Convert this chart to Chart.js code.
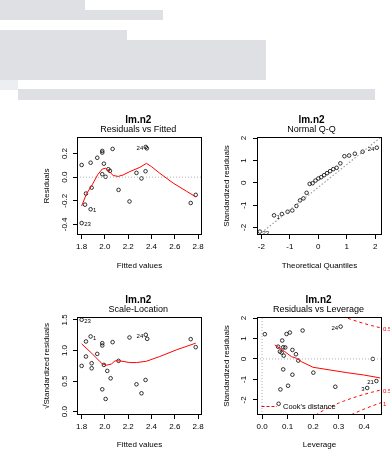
<!DOCTYPE html>
<html><head><meta charset="utf-8">
<script src="https://cdn.jsdelivr.net/npm/chart.js@4.4.1/dist/chart.umd.min.js"></script>
<style>
html,body{margin:0;padding:0;background:#fff;}
body{width:390px;height:450px;position:relative;overflow:hidden;}
.bar{position:absolute;background:#dfe0e4;}
canvas{position:absolute;}
</style></head><body>
<div class="bar" style="left:0;top:0;width:85px;height:10px"></div>
<div class="bar" style="left:0;top:10px;width:163px;height:10px"></div>
<div class="bar" style="left:0;top:30px;width:127px;height:10px"></div>
<div class="bar" style="left:0;top:40px;width:266px;height:40px"></div>
<div class="bar" style="left:0;top:80px;width:18px;height:10px;background:#eceef1"></div>
<div class="bar" style="left:18px;top:89px;width:357px;height:11px"></div>
<canvas id="c1" width="210" height="180" style="left:0;top:100px"></canvas>
<canvas id="c2" width="180" height="180" style="left:210px;top:100px"></canvas>
<canvas id="c3" width="210" height="170" style="left:0;top:280px"></canvas>
<canvas id="c4" width="180" height="170" style="left:210px;top:280px"></canvas>
<script>
// ---- tick labels ----
const fittedTicks = ['1.8','2.0','2.2','2.4','2.6','2.8'];
const residTicks = ['-0.4','-0.2','0.0','0.2'];
const qqTicks = ['-2','-1','0','1','2'];
const sqrtTicks = ['0.0','0.5','1.0','1.5'];
const leverageTicks = ['0.0','0.1','0.2','0.3','0.4'];
const stdTicks = ['-2','-1','0','1','2'];

// ---- Residuals vs Fitted ----
const fitted = [1.80,1.80,1.829,1.837,1.877,1.886,1.877,1.934,1.977,1.977,1.977,1.991,2.006,2.029,2.043,2.066,2.117,2.211,2.271,2.314,2.351,2.36,2.349,2.737,2.78];
const residuals = [-0.389,0.103,-0.233,-0.139,-0.272,-0.089,0.122,0.164,0.222,0.208,0.025,0.114,0.003,0.067,0.053,0.239,-0.108,-0.206,0.036,-0.011,0.256,0.244,0.05,-0.219,-0.15];
const residLabels = ['23','','','','1','','','','','','','','','','','','','','','','24','','','',''];
const residLowessX = [1.80,1.843,1.891,1.937,1.977,2.006,2.037,2.071,2.114,2.157,2.214,2.30,2.357,2.40,2.471,2.586,2.70,2.78];
const residLowessY = [-0.244,-0.139,-0.064,0.019,0.069,0.075,0.047,0.014,0.006,0.019,0.047,0.083,0.117,0.089,0.033,-0.05,-0.119,-0.167];

// ---- Normal Q-Q ----
const theoQuant = [-2.054,-1.555,-1.282,-1.080,-0.915,-0.772,-0.643,-0.524,-0.412,-0.305,-0.202,-0.100,0,0.100,0.202,0.305,0.412,0.524,0.643,0.772,0.915,1.080,1.282,1.555,2.054];
const stdResidSorted = [-2.19,-1.46,-1.40,-1.30,-1.24,-1.04,-0.79,-0.70,-0.45,-0.05,-0.02,0.10,0.19,0.25,0.34,0.43,0.52,0.61,0.67,0.87,1.19,1.22,1.30,1.39,1.57];
const qqLabels = ['23','1','','','','','','','','','','','','','','','','','','','','','','','24'];
const qqLineX = [-2.09, 0, 2.2];
const qqLineY = [-2.332, -0.2, 2.044];

// ---- Scale-Location ----
const slFitted = [1.80,1.80,1.837,1.837,1.877,1.886,1.886,1.934,1.977,1.977,1.977,1.991,2.006,2.02,2.049,2.066,2.117,2.211,2.271,2.314,2.351,2.363,2.349,2.737,2.78];
const slSqrtStd = [1.503,0.749,1.148,0.902,1.23,0.792,0.71,0.945,1.12,1.082,0.366,0.765,0.208,0.667,0.546,1.137,0.831,1.213,0.448,0.301,1.257,1.191,0.519,1.186,1.055];
const slLabels = ['23','','','','1','','','','','','','','','','','','','','','','24','','','',''];
const slLowessX = [1.80,1.886,1.977,2.014,2.057,2.086,2.129,2.214,2.271,2.357,2.471,2.614,2.78];
const slLowessY = [1.109,0.956,0.781,0.760,0.781,0.831,0.831,0.803,0.803,0.825,0.902,1.011,1.12];

// ---- Residuals vs Leverage ----
const leverage = [0.065,0.011,0.096,0.109,0.159,0.079,0.063,0.083,0.091,0.070,0.077,0.085,0.119,0.133,0.142,0.434,0.083,0.119,0.201,0.102,0.072,0.287,0.448,0.412,0.308];
const levStdResid = [-2.19,1.21,1.22,1.29,1.39,0.90,0.60,0.57,0.56,0.36,0.31,0.16,0.44,0.23,-0.08,0.00,-0.51,-0.77,-0.67,-1.31,-1.49,-1.36,-1.08,-1.42,1.58];
const levLabels = ['','','','','','','','','','','','','','','','','','','','','','','21','3','24'];
const levLowessX = [0.05,0.07,0.089,0.115,0.135,0.154,0.20,0.266,0.332,0.398,0.45,0.463];
const levLowessY = [0.686,0.522,0.359,0.114,0.033,-0.131,-0.408,-0.539,-0.669,-0.784,-0.898,-0.93];
const cookHalfX = [0.21,0.23,0.25,0.28,0.30,0.32,0.35,0.38,0.40,0.43,0.47];
const cookHalfUpY = [2.743,2.588,2.449,2.268,2.160,2.062,1.927,1.806,1.732,1.628,1.502];
const cookHalfLowY = [-2.743,-2.588,-2.449,-2.268,-2.160,-2.062,-1.927,-1.806,-1.732,-1.628,-1.502];
const cookOneX = [0.35,0.38,0.40,0.43,0.47];
const cookOneLowY = [-2.726,-2.555,-2.449,-2.303,-2.124];
const cookTickValues = [-2.2,-1.58,1.45];
const cookTickLabels = ['1','0.5','0.5'];

// ---- helpers ----
const FONT = '"Liberation Sans", Arial, Helvetica, sans-serif';
const xy = (xs, ys) => xs.map((x, i) => ({x: x, y: ys[i]}));
const labelFor = (list, v) => { const t = list.find(s => Math.abs(parseFloat(s) - v) < 1e-9); return t === undefined ? '' : t; };

function pointDs(xs, ys, labels) {
  return {data: xy(xs, ys), showLine: false, pointStyle: 'circle', pointRadius: 1.8,
    pointBorderWidth: 0.8, pointBorderColor: '#000', pointBackgroundColor: 'rgba(0,0,0,0)', pointLabels: labels};
}
function lineDs(xs, ys, color, dash, width) {
  return {data: xy(xs, ys), showLine: true, borderColor: color, borderWidth: width || 1,
    borderDash: dash, pointRadius: 0, fill: false, tension: 0};
}

const rExtras = {
  id: 'rExtras',
  afterDatasetsDraw(chart, args, o) {
    const ctx = chart.ctx, a = chart.chartArea;
    ctx.save();
    ctx.strokeStyle = '#000'; ctx.lineWidth = 1; ctx.setLineDash([]);
    ctx.strokeRect(a.left + 0.5, a.top + 0.5, a.right - a.left - 1, a.bottom - a.top - 1);
    ctx.fillStyle = '#000';
    ctx.font = '6px ' + FONT; ctx.textBaseline = 'middle';
    chart.data.datasets.forEach((ds, di) => {
      if (!ds.pointLabels) return;
      const meta = chart.getDatasetMeta(di);
      const xs = ds.data.map(p => p.x);
      const mid = (Math.min.apply(null, xs) + Math.max.apply(null, xs)) / 2;
      ds.pointLabels.forEach((t, i) => {
        if (!t) return;
        const el = meta.data[i];
        const right = ds.data[i].x <= mid;
        ctx.textAlign = right ? 'left' : 'right';
        ctx.fillText(t, el.x + (right ? 2.5 : -2.5), el.y + 1.5);
      });
    });
    ctx.textAlign = 'center'; ctx.textBaseline = 'middle';
    ctx.font = 'bold 10px ' + FONT; ctx.fillText(o.title, o.cx, o.titleY);
    ctx.font = '9px ' + FONT; ctx.fillText(o.subtitle, o.cx, o.subY);
    if (o.legend) {
      ctx.strokeStyle = '#ff0000'; ctx.lineWidth = 1; ctx.setLineDash([3, 2]);
      const ly = a.bottom - 8.5;
      ctx.beginPath(); ctx.moveTo(a.left + 4.5, ly); ctx.lineTo(a.left + 20, ly); ctx.stroke();
      ctx.setLineDash([]);
      ctx.textAlign = 'left'; ctx.font = '7.5px ' + FONT; ctx.fillStyle = '#000';
      ctx.fillText("Cook's distance", a.left + 26, ly + 0.5);
    }
    ctx.restore();
  }
};

function baseOptions(o) {
  const opts = {
    responsive: false, animation: false, events: [],
    layout: {padding: {left: 0, top: 37, right: o.padRight, bottom: 0}},
    plugins: {legend: {display: false}, tooltip: {enabled: false},
      rExtras: {title: 'lm.n2', subtitle: o.subtitle, cx: o.cx, titleY: 20.5, subY: o.subY, legend: !!o.legend}},
    scales: {
      x: {type: 'linear', position: 'bottom', min: o.xMin, max: o.xMax,
        afterFit: s => { s.height = o.xAxisH; s.paddingLeft = 0; s.paddingRight = 0; },
        afterBuildTicks: s => { s.ticks = o.xTicks.map(t => ({value: parseFloat(t)})); },
        ticks: {autoSkip: false, minRotation: 0, maxRotation: 0, padding: 3, color: '#000',
          font: {family: FONT, size: 8}, callback: v => labelFor(o.xTicks, v)},
        grid: {display: true, drawOnChartArea: false, drawTicks: true, tickLength: 4, color: '#000', lineWidth: 1},
        border: {display: false},
        title: {display: true, text: o.xTitle, color: '#000', font: {family: FONT, size: 8},
          padding: {top: 0, bottom: o.xTitlePad}}
      },
      y: {type: 'linear', position: 'left', min: o.yMin, max: o.yMax,
        afterFit: s => { s.width = o.yAxisW; s.paddingTop = 0; s.paddingBottom = 0; },
        afterBuildTicks: s => { s.ticks = o.yTicks.map(t => ({value: parseFloat(t)})); },
        ticks: {autoSkip: false, minRotation: 90, maxRotation: 90, crossAlign: 'center', padding: o.yTickPad,
          color: '#000', font: {family: FONT, size: 8}, callback: v => labelFor(o.yTicks, v)},
        grid: {display: true, drawOnChartArea: false, drawTicks: true, tickLength: 4, color: '#000', lineWidth: 1},
        border: {display: false},
        title: {display: true, text: o.yTitle, color: '#000', font: {family: FONT, size: 8},
          padding: {top: o.yTitlePad, bottom: 0}}
      }
    }
  };
  return opts;
}

Chart.register(rExtras);

// Panel 1
new Chart(document.getElementById('c1'), {
  type: 'scatter',
  data: {datasets: [
    lineDs(residLowessX, residLowessY, '#ff0000', []),
    lineDs([1.76, 2.834], [0, 0], '#b0b0b0', [1, 2]),
    pointDs(fitted, residuals, residLabels)
  ]},
  options: baseOptions({xMin: 1.76, xMax: 2.834, yMin: -0.49, yMax: 0.34, xTicks: fittedTicks, yTicks: residTicks,
    xTitle: 'Fitted values', yTitle: 'Residuals', subtitle: 'Residuals vs Fitted', cx: 138.3, subY: 29.5,
    padRight: 8, xAxisH: 45, yAxisW: 77, xTitlePad: 9.2, yTitlePad: 42.2, yTickPad: 1.1})
});

// Panel 2
new Chart(document.getElementById('c2'), {
  type: 'scatter',
  data: {datasets: [
    lineDs(qqLineX, qqLineY, '#9c9c9c', [1.5, 2], 1.2),
    pointDs(theoQuant, stdResidSorted, qqLabels)
  ]},
  options: baseOptions({xMin: -2.155, xMax: 2.236, yMin: -2.34, yMax: 2.05, xTicks: qqTicks, yTicks: stdTicks,
    xTitle: 'Theoretical Quantiles', yTitle: 'Standardized residuals', subtitle: 'Normal Q-Q', cx: 101.5, subY: 29.5,
    padRight: 8, xAxisH: 45, yAxisW: 47, xTitlePad: 9.2, yTitlePad: 12.2, yTickPad: 5.4})
});

// Panel 3
new Chart(document.getElementById('c3'), {
  type: 'scatter',
  data: {datasets: [
    lineDs(slLowessX, slLowessY, '#ff0000', []),
    pointDs(slFitted, slSqrtStd, slLabels)
  ]},
  options: baseOptions({xMin: 1.76, xMax: 2.834, yMin: -0.054, yMax: 1.548, xTicks: fittedTicks, yTicks: sqrtTicks,
    xTitle: 'Fitted values', yTitle: '\u221AStandardized residuals', subtitle: 'Scale-Location', cx: 138.3, subY: 30,
    padRight: 8, xAxisH: 35, yAxisW: 77, xTitlePad: 0, yTitlePad: 42.2, yTickPad: 2.4})
});

// Panel 4
const o4 = baseOptions({xMin: -0.0197, xMax: 0.47, yMin: -2.74, yMax: 2.05, xTicks: leverageTicks, yTicks: stdTicks,
    xTitle: 'Leverage', yTitle: 'Standardized residuals', subtitle: 'Residuals vs Leverage', cx: 108.5, subY: 30,
    padRight: 0, xAxisH: 35, yAxisW: 47, xTitlePad: 0, yTitlePad: 12.2, yTickPad: 5.4, legend: true});
o4.scales.y2 = {type: 'linear', position: 'right', min: -2.74, max: 2.05,
  afterFit: s => { s.width = 8; s.paddingTop = 0; s.paddingBottom = 0; },
  afterBuildTicks: s => { s.ticks = cookTickValues.map(v => ({value: v})); },
  ticks: {autoSkip: false, padding: 1, color: '#ff0000', font: {family: FONT, size: 6},
    callback: (v, i) => cookTickLabels[i]},
  grid: {display: false, drawTicks: false}, border: {display: false}};
new Chart(document.getElementById('c4'), {
  type: 'scatter',
  data: {datasets: [
    lineDs(levLowessX, levLowessY, '#ff0000', []),
    lineDs(cookHalfX, cookHalfUpY, '#ff0000', [3, 3]),
    lineDs(cookHalfX, cookHalfLowY, '#ff0000', [3, 3]),
    lineDs(cookOneX, cookOneLowY, '#ff0000', [3, 3]),
    lineDs([-0.0197, 0.47], [0, 0], '#b0b0b0', [1, 2]),
    lineDs([0, 0], [-2.74, 2.05], '#b0b0b0', [1, 2]),
    pointDs(leverage, levStdResid, levLabels)
  ]},
  options: o4
});
</script>
</body></html>
